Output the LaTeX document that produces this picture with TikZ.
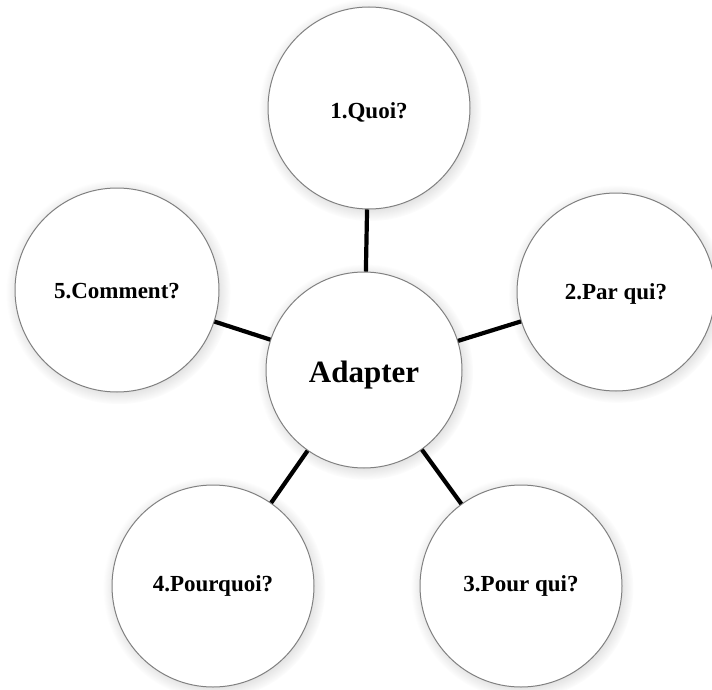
\documentclass[tikz,border=0pt]{standalone}
\usepackage{fontspec}
\setmainfont{Liberation Serif}
\usetikzlibrary{shadows}
\newcommand{\lowertext}[2]{\raisebox{-#1}[\height][\depth]{#2}}
\begin{document}
\begin{tikzpicture}[x=1pt,y=-1pt,
  bubble/.style={circle, draw=black!50, line width=1pt, fill=white, inner sep=0pt,
    circular drop shadow={shadow xshift=1.2pt, shadow yshift=-1.8pt, opacity=0.35, fill=black!40},
    font=\fontsize{23}{26}\selectfont\bfseries},
  link/.style={line width=4.2pt, black}]
\useasboundingbox[fill=white] (0,0) rectangle (712,690);
\node[bubble, minimum size=196pt, font=\fontsize{31}{34}\selectfont\bfseries] (c) at (364,370) {\lowertext{5pt}{Adapter}};
\node[bubble, minimum size=202pt] (q1) at (369,108) {\lowertext{4pt}{1.Quoi?}};
\node[bubble, minimum size=198pt] (q2) at (616,292) {\lowertext{2pt}{2.Par qui?}};
\node[bubble, minimum size=202pt] (q3) at (521,586) {3.Pour qui?};
\node[bubble, minimum size=202pt] (q4) at (213,586) {4.Pourquoi?};
\node[bubble, minimum size=204pt] (q5) at (117,290) {\lowertext{1pt}{5.Comment?}};
\draw[link] (c) -- (q1);
\draw[link] (c) -- (q2);
\draw[link] (c) -- (q3);
\draw[link] (c) -- (q4);
\draw[link] (c) -- (q5);
\end{tikzpicture}
\end{document}
